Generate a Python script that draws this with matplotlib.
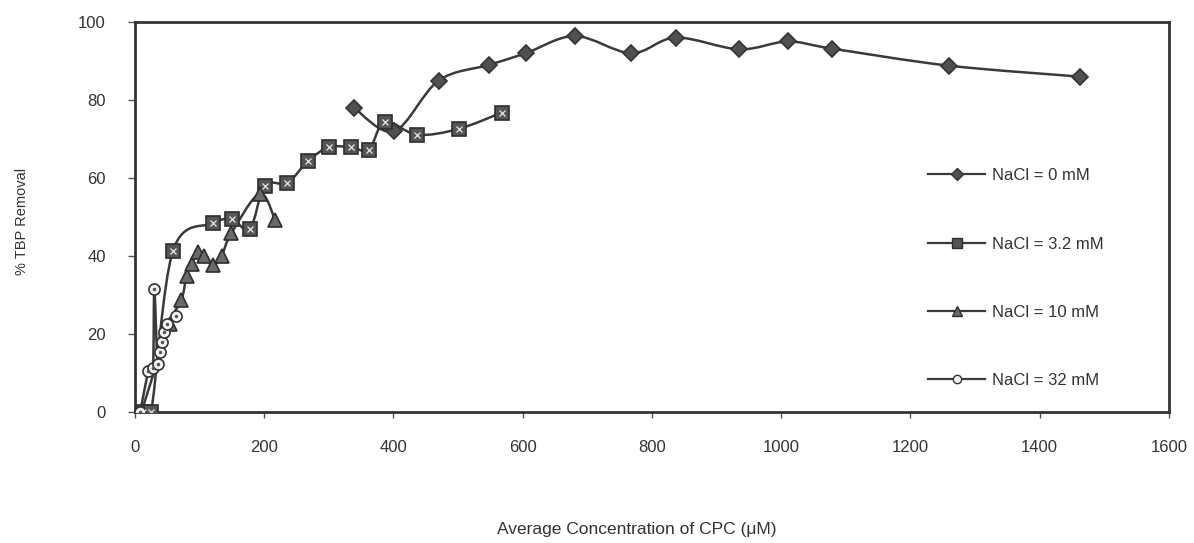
import numpy as np
import matplotlib
matplotlib.use('Agg')
import matplotlib.pyplot as plt
from matplotlib.path import Path
from matplotlib.patches import PathPatch
from matplotlib.lines import Line2D

plt.rcParams['font.family'] = ['Liberation Sans', 'DejaVu Sans']

# NaCl = 0 mM
x0 = [339, 401, 470, 548, 605, 681, 768, 837, 935, 1010, 1078, 1260, 1462]
y0 = [78, 72, 85, 89, 92, 96.4, 92, 96, 93, 95, 93.2, 88.8, 86]
# NaCl = 3.2 mM
x1 = [12, 25, 59, 121, 150, 178, 201, 236, 268, 300, 334, 362, 387, 437, 501, 568]
y1 = [0, 0, 41.4, 48.4, 49.4, 47, 58, 58.8, 64.4, 67.9, 67.9, 67.3, 74.4, 71.1, 72.6, 76.8]
# NaCl = 10 mM
x2 = [10, 54, 72, 80, 88, 97, 107, 121, 134, 149, 193, 217]
y2 = [0, 22.7, 28.7, 35, 38, 41, 40, 37.7, 40, 45.8, 56, 49.2]
# NaCl = 32 mM
x3 = [8, 21, 28, 30, 35, 39, 42, 45, 50, 64]
y3 = [0, 10.5, 11.4, 31.5, 12.3, 15.5, 18, 20.6, 22.7, 24.6]

labels = ['NaCl = 0 mM', 'NaCl = 3.2 mM', 'NaCl = 10 mM', 'NaCl = 32 mM']

LINE = '#3a3a3a'
TXT = '#333333'


def smooth_path(xs, ys):
    # Excel-style smoothed line (Catmull-Rom as cubic Bezier)
    p = np.column_stack([xs, ys]).astype(float)
    n = len(p)
    verts = [p[0]]
    codes = [Path.MOVETO]
    for i in range(n - 1):
        pm = p[i - 1] if i > 0 else p[i]
        pn = p[i + 2] if i + 2 < n else p[i + 1]
        c1 = p[i] + (p[i + 1] - pm) / 6.0
        c2 = p[i + 1] - (pn - p[i]) / 6.0
        verts += [c1, c2, p[i + 1]]
        codes += [Path.CURVE4] * 3
    return Path(verts, codes)


fig = plt.figure(figsize=(11.94, 5.43), dpi=100)
ax = fig.add_axes([0.113, 0.241, 0.866, 0.7185])

series = [
    (x0, y0, dict(marker='D', ms=8, mfc='#505050', mec='#333333')),
    (x1, y1, dict(marker='s', ms=9.5, mfc='#555555', mec='#2e2e2e')),
    (x2, y2, dict(marker='^', ms=10, mfc='#6a6a6a', mec='#2e2e2e')),
    (x3, y3, dict(marker='o', ms=8, mfc='#f4f4f4', mec='#333333')),
]

handles = []
for (xs, ys, mk), lab in zip(series, labels):
    ax.add_patch(PathPatch(smooth_path(xs, ys), fill=False, ec=LINE, lw=1.8, zorder=2))
    ax.plot(xs, ys, ls='none', mew=1.2, zorder=3, **mk)
    handles.append(Line2D([], [], color=LINE, lw=1.6, mew=1.0,
                          **dict(mk, ms=mk['ms'] * 0.75)))

# light speckles inside the square and circle markers
ax.plot(x1, y1, ls='none', marker='x', ms=4, mec='#e8e8e8', mew=0.9, zorder=4)
ax.plot(x3, y3, ls='none', marker='.', ms=3, mec='#555555', mfc='#555555', zorder=4)

ax.set_xlim(0, 1600)
ax.set_ylim(0, 100)
ax.set_xticks(np.arange(0, 1601, 200))
ax.set_yticks(np.arange(0, 101, 20))
for s in ax.spines.values():
    s.set_color('#333333')
    s.set_linewidth(2)
ax.tick_params(axis='x', direction='out', length=4, width=1, color='#555555',
               pad=16, labelsize=12, labelcolor=TXT)
ax.tick_params(axis='y', direction='out', length=5, width=1, color='#555555',
               pad=16, labelsize=12, labelcolor=TXT)

ax.set_xlabel('Average Concentration of CPC (μM)', fontsize=12.5, color=TXT)
ax.xaxis.set_label_coords(0.485, -0.30)
ax.xaxis.label.set_va('center')
ax.set_ylabel('% TBP Removal', fontsize=10.5, color=TXT)
ax.yaxis.set_label_coords(-0.109, 0.49)
ax.yaxis.label.set_va('center')

ax.legend(handles, labels, loc='upper left', bbox_to_anchor=(0.761, 0.642),
          borderaxespad=0, frameon=False, fontsize=12, labelspacing=3.2,
          handlelength=3.4, handletextpad=0.4, labelcolor=TXT)

fig.savefig('out.png', dpi=100)
